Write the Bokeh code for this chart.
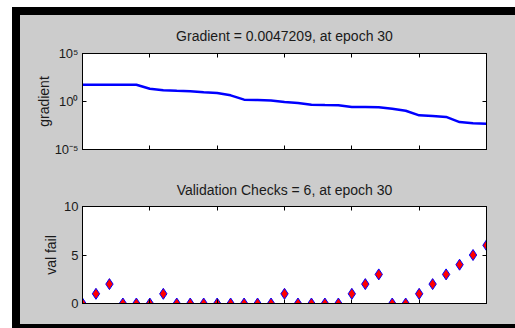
from bokeh.plotting import figure
from bokeh.layouts import column, row
from bokeh.models import (Range1d, FixedTicker, LinearAxis, LogAxis, CustomJSTickFormatter,
                          Spacer)
from bokeh.embed import file_html
from bokeh.resources import INLINE

# ---- data ----
epochs = [0, 1, 2, 3, 4, 5, 6, 7, 8, 9, 10, 11, 12, 13, 14, 15,
          16, 17, 18, 19, 20, 21, 22, 23, 24, 25, 26, 27, 28, 29, 30]
gradient = [56, 56, 56, 56, 55, 21, 15, 13, 11.5, 9.1, 7.8, 4.4, 1.55, 1.45, 1.3, 0.9,
            0.7, 0.47, 0.42, 0.4, 0.27, 0.26, 0.25, 0.18, 0.11, 0.036, 0.03, 0.025,
            0.0072, 0.0055, 0.0047209]
val_fail = [0, 1, 2, 0, 0, 0, 1, 0, 0, 0, 0, 0, 0, 0, 0, 1,
            0, 0, 0, 0, 1, 2, 3, 0, 0, 1, 2, 3, 4, 5, 6]
grad_title = "Gradient = 0.0047209, at epoch 30"
val_title = "Validation Checks = 6, at epoch 30"
grad_ylabel = "gradient"
val_ylabel = "val fail"
grad_ticks = [1e-5, 1, 1e5]
grad_tick_labels = ["10\u207b\u2075", "10\u2070", "10\u2075"]
val_ticks = [0, 5, 10]
epoch_ticks = [0, 5, 10, 15, 20, 25, 30]

FONT = "Liberation Sans"
BG = "#cccccc"
INK = "#1a1a1a"


def base_style(p, ticks_y, title_standoff):
    p.background_fill_color = "white"
    p.border_fill_color = BG
    p.outline_line_color = "black"
    p.grid.visible = False
    p.title.text_font = FONT
    p.title.text_font_size = "14px"
    p.title.text_font_style = "normal"
    p.title.text_color = INK
    p.title.align = "center"
    p.title.standoff = title_standoff
    for ax in p.xaxis:
        ax.ticker = FixedTicker(ticks=epoch_ticks)
        ax.major_tick_in = 4
        ax.major_tick_out = 0
        ax.minor_tick_line_color = None
        ax.major_label_text_color = None
        ax.major_label_text_font_size = "1px"
        ax.major_label_standoff = 0
        ax.axis_line_color = "black"
    for ax in p.yaxis:
        ax.ticker = FixedTicker(ticks=ticks_y)
        ax.major_tick_in = 4
        ax.major_tick_out = 0
        ax.minor_tick_line_color = None
        ax.major_label_text_font = FONT
        ax.major_label_text_font_size = "13px"
        ax.major_label_text_color = INK
        ax.major_label_standoff = 4
        ax.axis_label_text_font = FONT
        ax.axis_label_text_font_size = "14px"
        ax.axis_label_text_font_style = "normal"
        ax.axis_label_text_color = INK
        ax.axis_line_color = "black"
    top = LinearAxis(ticker=FixedTicker(ticks=epoch_ticks), major_tick_in=4, major_tick_out=0,
                     minor_tick_line_color=None, major_label_text_color=None,
                     major_label_text_font_size="1px", major_label_standoff=0,
                     axis_line_color="black")
    p.add_layout(top, "above")


# ---- gradient plot ----
p1 = figure(frame_width=404, frame_height=96, x_range=Range1d(0, 30),
            y_range=Range1d(1e-5, 1e5), y_axis_type="log",
            min_border_left=62, min_border_right=29, min_border_top=38, min_border_bottom=16,
            output_backend="svg", toolbar_location=None, title=grad_title)
p1.line(epochs, gradient, line_color="#0000ff", line_width=2.5)
base_style(p1, grad_ticks, 19)
p1.yaxis.formatter = CustomJSTickFormatter(args=dict(tvals=grad_ticks, tlabels=grad_tick_labels), code="""
let best = 0, bd = Infinity;
for (let i = 0; i < tvals.length; i++) {
  const d = Math.abs(Math.log10(tvals[i]) - Math.log10(tick));
  if (d < bd) { bd = d; best = i; }
}
return tlabels[best];
""")
p1.yaxis.axis_label = grad_ylabel
p1.yaxis.axis_label_standoff = 0
r1 = LogAxis(ticker=FixedTicker(ticks=grad_ticks), major_tick_in=4, major_tick_out=0,
             minor_tick_line_color=None, major_label_text_color=None,
             major_label_text_font_size="1px", major_label_standoff=0, axis_line_color="black")
p1.add_layout(r1, "right")

# ---- validation plot ----
p2 = figure(frame_width=404, frame_height=97, x_range=Range1d(0, 30), y_range=Range1d(0, 10),
            min_border_left=62, min_border_right=29, min_border_top=41, min_border_bottom=21,
            output_backend="svg", toolbar_location=None, title=val_title)
p2.scatter(epochs, val_fail, marker="diamond", size=11, fill_color="#ff0000",
           line_color="#0000ff", line_width=1)
base_style(p2, val_ticks, 17)
p2.yaxis.axis_label = val_ylabel
p2.yaxis.axis_label_standoff = 2
r2 = LinearAxis(ticker=FixedTicker(ticks=val_ticks), major_tick_in=4, major_tick_out=0,
                minor_tick_line_color=None, major_label_text_color=None,
                major_label_text_font_size="1px", major_label_standoff=0, axis_line_color="black")
p2.add_layout(r2, "right")

inner = column(p1, p2, spacing=0, margin=0, styles={"background-color": BG})
mid = row(Spacer(width=20, height=309, margin=0), inner, spacing=0, margin=0)
lay = column(Spacer(width=515, height=15, margin=0), mid, Spacer(width=515, height=4, margin=0),
             spacing=0, margin=0,
             styles={"background": "linear-gradient(#ffffff, #ffffff) 0 0 / 100% 7px no-repeat, "
                                   "linear-gradient(#ffffff, #ffffff) 0 0 / 12px 100% no-repeat, "
                                   "#000000"})

open("out.html", "w").write(file_html(lay, INLINE))
